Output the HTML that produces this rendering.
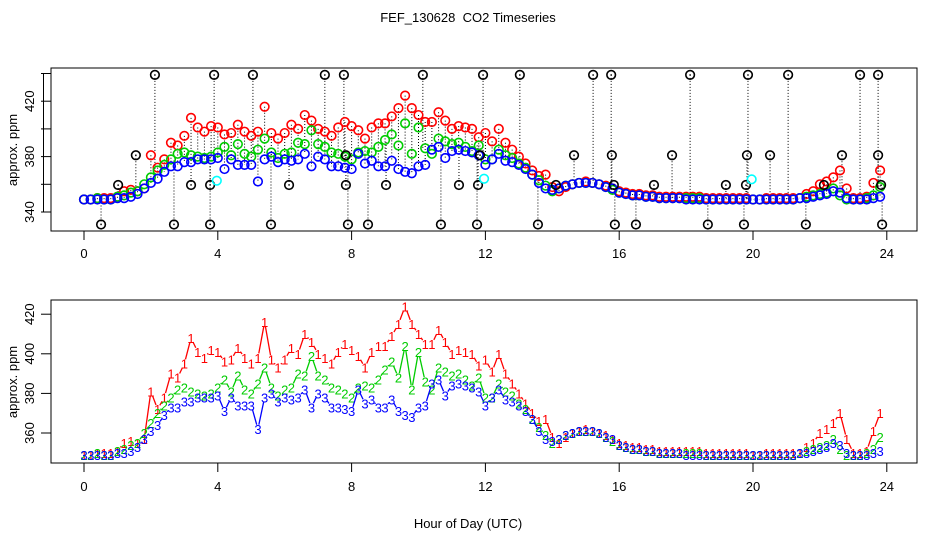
<!DOCTYPE html>
<html><head><meta charset="utf-8"><style>
html,body{margin:0;padding:0;background:#fff;}
svg{display:block;font-family:"Liberation Sans",sans-serif;}
</style></head><body>
<svg id="chart" width="936" height="540" viewBox="0 0 936 540" xmlns="http://www.w3.org/2000/svg">
<text x="468" y="22" text-anchor="middle" font-size="13" style="white-space:pre">FEF_130628  CO2 Timeseries</text>
<rect x="51" y="68" width="866" height="163" fill="none" stroke="#000"/>
<rect x="51" y="300" width="866" height="163" fill="none" stroke="#000"/>
<text transform="translate(17,150) rotate(-90)" text-anchor="middle" font-size="13">approx. ppm</text>
<text transform="translate(17,382) rotate(-90)" text-anchor="middle" font-size="13">approx. ppm</text>
<text x="468" y="528" text-anchor="middle" font-size="13">Hour of Day (UTC)</text>
<g id="topg"></g><g id="botg"></g>
</svg>
<script>
const xTicks=[0,4,8,12,16,20,24];
const topYTicks=[340,360,380,400,420,440];
const topYLabels=[340,380,420];
const botYTicks=[360,380,400,420];
const s1=[349,349,350,350,350, 351,355,356,355,357, 381,372,378,390,388, 395,408,401,398,402, 401,396,397,403,398, 395,398,416,397,393, 397,403,400,410,406, 400,398,395,401,405, 402,399,393,401,404, 404,409,415,424,415, 410,405,405,412,406, 400,402,401,400,394, 397,391,400,390,385, 380,375,370,366,367, 358,355,358,360,361, 362,361,360,359,357, 355,354,353,353,352, 352,351,351,351,351, 351,351,351,350,350, 350,350,350,350,350, 349,349,350,350,350, 350,350,350,353,355, 360,362,365,370,357, 350,350,351,361,370];
const s2=[349,349,350,349,349, 351,352,354,355,360, 365,370,374,378,382, 383,381,380,379,380, 383,387,381,389,382, 380,385,393,383,379, 382,383,390,389,399, 389,387,383,382,380, 378,383,384,383,387, 392,396,388,404,382, 401,386,382,393,391, 389,390,387,384,388, 378,378,385,381,379, 375,372,367,363,359, 355,357,359,360,361, 361,361,360,358,356, 354,353,352,352,351, 351,350,350,350,350, 350,350,350,349,349, 349,349,349,349,349, 349,349,349,349,349, 349,349,350,351,352, 353,354,357,352,349, 349,349,350,352,358];
const s3=[349,349,349,349,349, 350,350,351,353,357, 361,364,369,373,373, 376,376,378,378,378, 379,371,378,374,374, 374,362,378,380,376, 378,377,378,382,373, 380,378,373,373,372, 371,382,375,377,373, 373,377,371,369,368, 373,374,385,387,379, 384,385,384,383,381, 374,378,382,377,376, 374,371,367,361,357, 356,357,359,360,361, 361,361,360,358,357, 354,353,352,352,351, 351,350,350,350,350, 349,349,349,349,349, 349,349,349,349,349, 349,349,349,349,349, 349,349,350,350,351, 352,353,355,354,350, 349,349,349,350,351];
const outT=[2.12,3.89,5.05,7.2,7.77,10.13,11.93,13.03,15.22,15.76,18.12,19.85,21.05,23.2,23.74, 0.51,2.69,3.77,5.59,7.89,8.49,10.67,11.75,13.57,15.87,16.5,18.65,19.73,21.58,23.86, 1.55,7.83,11.84,14.65,15.78,17.58,19.82,20.51,22.66,23.74, 1.02,3.2,3.77,6.13,7.83,9.03,11.21,11.78,14.11,15.84,17.04,19.19,19.79,22.12,23.83];
const outV=[439,439,439,439,439,439,439,439,439,439,439,439,439,439,439, 331,331,331,331,331,331,331,331,331,331,331,331,331,331,331, 381,381,381,381,381,381,381,381,381,381, 359.5,359.5,359.5,359.5,359.5,359.5,359.5,359.5,359.5,359.5,359.5,359.5,359.5,359.5,359.5];
const cyanT=[3.97,11.96,19.96];
const cyanV=[362.6,364,363.6];
const STEP=0.2;
const NS='http://www.w3.org/2000/svg';
const X=t=>84+33.45*t;
const YT=v=>212-(v-340)*1.385;
const YB=v=>433-(v-360)*1.98;
function mk(parent,tag,attrs){const e=document.createElementNS(NS,tag);for(const k in attrs)e.setAttribute(k,attrs[k]);parent.appendChild(e);return e;}
const topG=document.getElementById('topg'), botG=document.getElementById('botg');
[[topG,231,258],[botG,463,491]].forEach(([g,yb,yl])=>{
  xTicks.forEach(t=>{
    const l=mk(g,'line',{x1:X(t),x2:X(t),y1:yb,y2:yb+9,stroke:'#000'});
    
    
    const tx=mk(g,'text',{x:X(t),y:yl,'text-anchor':'middle','font-size':13});
    tx.textContent=t;
    
    
  });
});
const axl=mk(topG,'line',{x1:43.5,x2:43.5,y1:YT(topYTicks[0]),y2:YT(topYTicks[topYTicks.length-1]),stroke:'#000'});


topYTicks.forEach(v=>{
  const l=mk(topG,'line',{x1:41,x2:51,y1:YT(v),y2:YT(v),stroke:'#000'});
  
  
});
topYLabels.forEach(v=>{
  const tx=mk(topG,'text',{transform:`translate(34,${YT(v)}) rotate(-90)`,'text-anchor':'middle','font-size':13});
  tx.textContent=v;
  
  
});
botYTicks.forEach(v=>{
  const l=mk(botG,'line',{x1:41,x2:51,y1:YB(v),y2:YB(v),stroke:'#000'});
  
  
  const tx=mk(botG,'text',{transform:`translate(34,${YB(v)}) rotate(-90)`,'text-anchor':'middle','font-size':13});
  tx.textContent=v;
  
  
});
s1.forEach((v,i)=>{
  const l=mk(topG,'line',{x1:X(i*STEP),x2:X(i*STEP),y1:YT(v),y2:YT(s3[i]),stroke:'#000','stroke-dasharray':'1,2','stroke-width':1});
  
  
});
outT.forEach((t,i)=>{
  const j=Math.min(s2.length-1,Math.round(t/STEP));
  const l=mk(topG,'line',{x1:X(t),x2:X(t),y1:YT(outV[i]),y2:YT(s2[j]),stroke:'#000','stroke-dasharray':'1,2','stroke-width':1});
  
  
});
function circles(arr,color,name){
  arr.forEach((v,i)=>{
    const c=mk(topG,'circle',{cx:X(i*STEP),cy:YT(v),r:4.3,fill:'none',stroke:color,'stroke-width':1.6});
    
    
  });
}
circles(s1,'#f00','max-point');
circles(s2,'#0c0','mean-point');
circles(s3,'#00f','min-point');
outT.forEach((t,i)=>{
  const c=mk(topG,'circle',{cx:X(t),cy:YT(outV[i]),r:4.3,fill:'none',stroke:'#000','stroke-width':1.6});
  
  
  const d=mk(topG,'circle',{cx:X(t),cy:YT(outV[i]),r:0.8,fill:'#000'});
  
  
});
cyanT.forEach((t,i)=>{
  const c=mk(topG,'circle',{cx:X(t),cy:YT(cyanV[i]),r:4.3,fill:'none',stroke:'#0ff','stroke-width':1.6});
  
  
});
function series(arr,color,label,name){
  for(let i=0;i<arr.length-1;i++){
    const x1=X(i*STEP),y1=YB(arr[i]),x2=X((i+1)*STEP),y2=YB(arr[i+1]);
    const dx=x2-x1,dy=y2-y1,L=Math.hypot(dx,dy),g=4.5;
    if(L<=2*g) continue;
    const ux=dx/L,uy=dy/L;
    const s=mk(botG,'line',{x1:x1+ux*g,y1:y1+uy*g,x2:x2-ux*g,y2:y2-uy*g,stroke:color,'stroke-width':1.3});
    
    
  }
  arr.forEach((v,i)=>{
    const tx=mk(botG,'text',{x:X(i*STEP),y:YB(v)+5,'text-anchor':'middle','font-size':13,fill:color});
    tx.textContent=label;
    
    
  });
}
series(s1,'#f00','1','series-1');
series(s2,'#0c0','2','series-2');
series(s3,'#00f','3','series-3');
</script>
</body></html>
